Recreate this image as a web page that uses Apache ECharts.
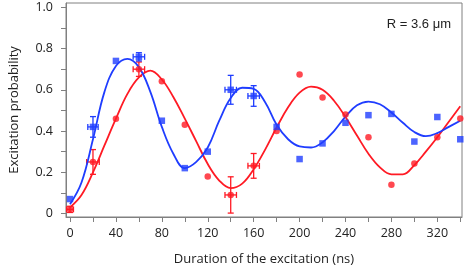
<!DOCTYPE html>
<html>
<head>
<meta charset="utf-8">
<script src="https://cdn.jsdelivr.net/npm/echarts@6/dist/echarts.min.js"></script>
<style>html,body{margin:0;padding:0;background:#fff}#c{width:464px;height:271px}</style>
</head>
<body>
<div id="c"></div>
<script>
// Measured points (Duration in ns)
const pointX = [0,20,40,60,80,100,120,140,160,180,200,220,240,260,280,300,320,340];
const blueY = [0.07,0.42,0.74,0.76,0.45,0.22,0.30,0.60,0.57,0.42,0.264,0.34,0.44,0.477,0.483,0.349,0.468,0.36];
const redY  = [0.02,0.25,0.46,0.70,0.641,0.431,0.18,0.09,0.231,0.40,0.674,0.563,0.48,0.37,0.139,0.242,0.37,0.461];

// Fitted curves
const fitX = [0,10,20,30,40,50,60,70,80,90,100,110,120,130,140,150,160,170,180,190,200,210,220,230,240,250,260,270,280,290,300,310,320,330,340];
const blueFit = [0.045,0.15,0.36,0.59,0.715,0.75,0.71,0.59,0.42,0.29,0.22,0.25,0.32,0.45,0.56,0.61,0.605,0.54,0.43,0.36,0.325,0.32,0.345,0.40,0.47,0.525,0.543,0.53,0.49,0.44,0.395,0.375,0.39,0.42,0.45];
const redFit  = [0.03,0.09,0.20,0.33,0.46,0.58,0.66,0.693,0.65,0.565,0.46,0.35,0.24,0.16,0.123,0.145,0.215,0.31,0.417,0.515,0.586,0.615,0.60,0.547,0.468,0.378,0.29,0.224,0.19,0.19,0.235,0.30,0.37,0.445,0.52];

// Error bars: [x, y, xErr, yErr]
const blueErr = [[20,0.42,4.5,0.05],[60,0.76,5,0.02],[140,0.60,5,0.07],[160,0.57,5,0.05]];
const redErr  = [[0,0.02,3,0.015],[20,0.25,5.5,0.06],[60,0.70,5,0.035],[140,0.09,5,0.088],[160,0.231,5,0.06]];

// Axis ticks
const xTickVals = [0,20,40,60,80,100,120,140,160,180,200,220,240,260,280,300,320,340];
const xLabelVals = [0,40,80,120,160,200,240,280,320];
const yTickVals = [0,0.1,0.2,0.3,0.4,0.5,0.6,0.7,0.8,0.9,1.0];
const yLabelVals = [0,0.2,0.4,0.6,0.8,1.0];

const BLUE = '#1f3dff';
const RED = '#ff1a24';
const FONT = '"Open Sans", "Liberation Sans", sans-serif';

function zip(xs, ys){ return xs.map((x,i)=>[x, ys[i]]); }

function errRender(color){
  return function(params, api){
    const x = api.value(0), y = api.value(1), ex = api.value(2), ey = api.value(3);
    const c = api.coord([x, y]);
    const l = api.coord([x - ex, y]);
    const r = api.coord([x + ex, y]);
    const t = api.coord([x, y + ey]);
    const b = api.coord([x, y - ey]);
    const cap = 3;
    const style = {stroke: color, lineWidth: 1.3};
    const lines = [
      [l[0], c[1], r[0], c[1]],
      [l[0], c[1]-cap, l[0], c[1]+cap],
      [r[0], c[1]-cap, r[0], c[1]+cap],
      [c[0], t[1], c[0], b[1]],
      [c[0]-cap, t[1], c[0]+cap, t[1]],
      [c[0]-cap, b[1], c[0]+cap, b[1]]
    ];
    return {type:'group', children: lines.map(p=>({type:'line', shape:{x1:p[0],y1:p[1],x2:p[2],y2:p[3]}, style: style}))};
  };
}

const chart = echarts.init(document.getElementById('c'), null, {renderer:'canvas'});
chart.setOption({
  animation: false,
  grid: {left: 59.5, right: 2, top: 3, bottom: 49, show: true, borderColor: '#808080', borderWidth: 1},
  xAxis: {
    type: 'value', min: -3.5, max: 341.5,
    name: 'Duration of the excitation (ns)', nameLocation: 'middle', nameGap: 33,
    nameTextStyle: {fontSize: 13, color: '#222', fontFamily: FONT, padding: [3, 0, 0, 0]},
    axisLine: {show: true, onZero: false, lineStyle: {color: '#808080'}},
    axisTick: {show: true, length: 5, customValues: xTickVals, lineStyle: {color: '#808080'}},
    axisLabel: {customValues: xLabelVals, fontSize: 12.5, color: '#222', fontFamily: FONT, margin: 10},
    splitLine: {show: false}
  },
  yAxis: {
    type: 'value', min: -0.017, max: 1.021,
    name: 'Excitation probability', nameLocation: 'middle', nameGap: 45,
    nameTextStyle: {fontSize: 13, color: '#222', fontFamily: FONT},
    axisLine: {show: true, onZero: false, lineStyle: {color: '#808080'}},
    axisTick: {show: true, length: 5, customValues: yTickVals, lineStyle: {color: '#808080'}},
    axisLabel: {customValues: yLabelVals, fontSize: 12.5, color: '#222', fontFamily: FONT, margin: 13,
      formatter: v => (Math.abs(v) < 1e-9 ? '0' : v.toFixed(1))},
    splitLine: {show: false}
  },
  graphic: [{
    type: 'text', right: 13, top: 18,
    style: {text: 'R = 3.6 \u03bcm', fontSize: 13, fill: '#222', font: '13px ' + FONT}
  }],
  series: [
    {type: 'custom', renderItem: errRender(RED), data: redErr, z: 2, silent: true},
    {type: 'custom', renderItem: errRender(BLUE), data: blueErr, z: 2, silent: true},
    {type: 'line', data: zip(fitX, redFit), smooth: 0.4, showSymbol: false, lineStyle: {color: RED, width: 1.8}, z: 3},
    {type: 'line', data: zip(fitX, blueFit), smooth: 0.4, showSymbol: false, lineStyle: {color: BLUE, width: 1.8}, z: 3},
    {type: 'scatter', data: zip(pointX, redY), symbol: 'circle', symbolSize: 6.5, itemStyle: {color: RED}, z: 4},
    {type: 'scatter', data: zip(pointX, blueY), symbol: 'rect', symbolSize: 6.5, itemStyle: {color: BLUE}, z: 4}
  ]
});
</script>
</body>
</html>
